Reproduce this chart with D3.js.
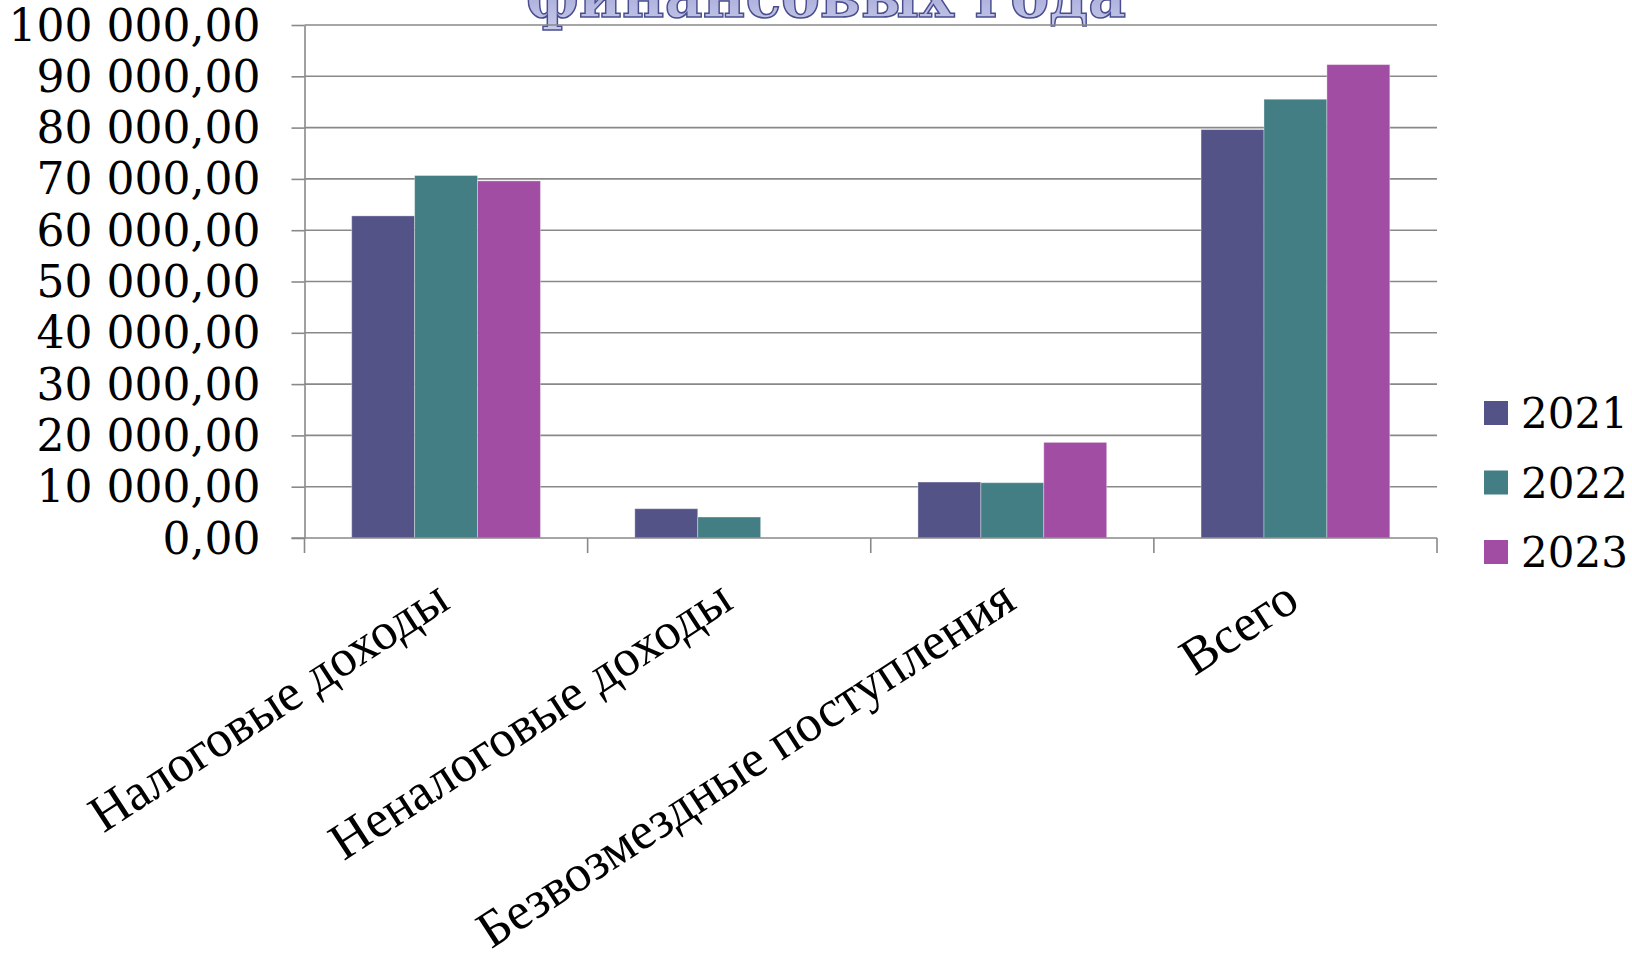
<!DOCTYPE html>
<html>
<head>
<meta charset="utf-8">
<script src="https://cdn.jsdelivr.net/npm/d3@7"></script>
<style>
	html, body { margin: 0; padding: 0; background: #fff; }
	svg { display: block; }
</style>
</head>
<body>
<div id="chart"></div>
<script>
// Data
const categories = ['Налоговые доходы', 'Неналоговые доходы', 'Безвозмездные поступления', 'Всего'];
const years = ['2021', '2022', '2023'];
const values2021 = [62790, 5710, 10910, 79620];
const values2022 = [70660, 4090, 10780, 85530];
const values2023 = [69610, null, 18640, 92280];
const yTicks = [0, 10000, 20000, 30000, 40000, 50000, 60000, 70000, 80000, 90000, 100000];
const titleLine = 'финансовых года';

const seriesValues = [values2021, values2022, values2023];
const colors = ['#545388', '#437e84', '#a04da3'];

// Attribute
const width = 1632;
const height = 956;
const margin = { top: 25, right: 195, bottom: 418, left: 304.5 };

const svg = d3.select('#chart').append('svg')
	.attr('width', width)
	.attr('height', height)
	.attr('viewBox', [0, 0, width, height]);

const x0 = d3.scaleBand()
	.domain(categories)
	.range([margin.left, width - margin.right])
	.padding(0);

const x1 = d3.scaleBand()
	.domain(years)
	.range([0, x0.bandwidth()])
	.paddingInner(0)
	.paddingOuter(0.75);

const y = d3.scaleLinear()
	.domain([0, 100000])
	.range([height - margin.bottom, margin.top]);

const ru = d3.formatLocale({ decimal: ',', thousands: '\u00a0', grouping: [3], currency: ['', ''] });
const fmt = ru.format(',.2f');

// Title (only the lower part of the last line is in frame)
const defs = svg.append('defs');
const grad = defs.append('linearGradient')
	.attr('id', 'titleFill')
	.attr('x1', 0).attr('y1', 0).attr('x2', 0).attr('y2', 1);
grad.append('stop').attr('offset', '0%').attr('stop-color', '#8e93cc');
grad.append('stop').attr('offset', '100%').attr('stop-color', '#c9cceb');

svg.append('text')
	.attr('x', 826)
	.attr('y', 17)
	.attr('text-anchor', 'middle')
	.attr('font-family', 'DejaVu Serif')
	.attr('font-weight', 'bold')
	.attr('font-size', 64)
	.attr('textLength', 600)
	.attr('lengthAdjust', 'spacingAndGlyphs')
	.attr('fill', 'url(#titleFill)')
	.attr('stroke', '#4a4e8e')
	.attr('stroke-width', 1.6)
	.text(titleLine);

// Gridlines
svg.append('g')
	.selectAll('line')
	.data(yTicks.filter((d) => d > 0))
	.join('line')
	.attr('x1', margin.left)
	.attr('x2', width - margin.right)
	.attr('y1', (d) => y(d))
	.attr('y2', (d) => y(d))
	.attr('stroke', '#898989')
	.attr('stroke-width', 1.6);

// Y axis
const yAxis = svg.append('g')
	.attr('transform', `translate(${margin.left},0)`)
	.call(d3.axisLeft(y).tickValues(yTicks).tickFormat(fmt).tickSize(13).tickSizeOuter(0).tickPadding(31));
yAxis.select('.domain').attr('stroke', '#898989').attr('stroke-width', 1.6);
yAxis.selectAll('.tick line').attr('stroke', '#898989').attr('stroke-width', 1.6);
yAxis.selectAll('.tick text')
	.attr('font-family', 'DejaVu Serif')
	.attr('font-size', 44)
	.attr('fill', '#000')
	.attr('dy', 15);

// Bars
const groups = svg.append('g')
	.selectAll('g')
	.data(categories)
	.join('g')
	.attr('transform', (d) => `translate(${x0(d)},0)`);

groups.selectAll('rect')
	.data((d, i) => years.map((yr, j) => ({ year: yr, value: seriesValues[j][i], color: colors[j] })).filter((d) => d.value != null))
	.join('rect')
	.attr('x', (d) => x1(d.year))
	.attr('y', (d) => y(d.value))
	.attr('width', x1.bandwidth())
	.attr('height', (d) => y(0) - y(d.value))
	.attr('fill', (d) => d.color)
	.attr('stroke', 'rgba(255,255,255,0.35)')
	.attr('stroke-width', 1);

// X axis
const xAxisY = y(0);
svg.append('line')
	.attr('x1', margin.left - 13)
	.attr('x2', width - margin.right)
	.attr('y1', xAxisY)
	.attr('y2', xAxisY)
	.attr('stroke', '#898989')
	.attr('stroke-width', 1.6);

const boundaries = categories.map((c) => x0(c)).concat([x0(categories[categories.length - 1]) + x0.bandwidth()]);
svg.append('g')
	.selectAll('line')
	.data(boundaries)
	.join('line')
	.attr('x1', (d) => d)
	.attr('x2', (d) => d)
	.attr('y1', xAxisY)
	.attr('y2', xAxisY + 15)
	.attr('stroke', '#898989')
	.attr('stroke-width', 1.6);

svg.append('g')
	.selectAll('text')
	.data(categories)
	.join('text')
	.attr('transform', (d) => `translate(${x0(d) + x0.bandwidth() / 2 + 6},${xAxisY + 69}) rotate(-33)`)
	.attr('text-anchor', 'end')
	.attr('font-family', 'Liberation Serif')
	.attr('font-size', 52)
	.attr('fill', '#000')
	.text((d) => d);

// Legend
const legend = svg.append('g')
	.selectAll('g')
	.data(years)
	.join('g')
	.attr('transform', (d, i) => `translate(1484,${401 + i * 69.5})`);

legend.append('rect')
	.attr('width', 24)
	.attr('height', 24)
	.attr('fill', (d, i) => colors[i]);

legend.append('text')
	.attr('x', 37)
	.attr('y', 27)
	.attr('font-family', 'DejaVu Serif')
	.attr('font-size', 42)
	.attr('fill', '#000')
	.text((d) => d);
</script>
</body>
</html>
